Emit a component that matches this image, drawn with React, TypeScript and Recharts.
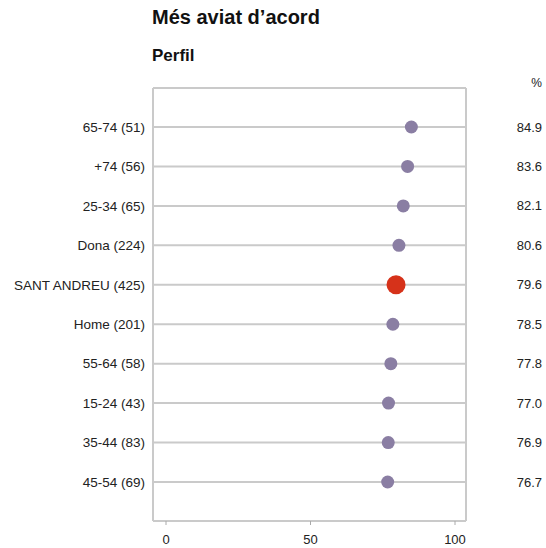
import { ScatterChart, Scatter, XAxis, YAxis, CartesianGrid } from "recharts";

// categories, top to bottom
const categories = [
  "65-74 (51)",
  "+74 (56)",
  "25-34 (65)",
  "Dona (224)",
  "SANT ANDREU (425)",
  "Home (201)",
  "55-64 (58)",
  "15-24 (43)",
  "35-44 (83)",
  "45-54 (69)",
];
const values = [84.9, 83.6, 82.1, 80.6, 79.6, 78.5, 77.8, 77.0, 76.9, 76.7];
const highlight = "SANT ANDREU (425)";
const xTicks = [0, 50, 100];

const data = categories.map((name, i) => ({ name, value: values[i] }));

const FONT = "'Liberation Sans', Arial, Helvetica, sans-serif";
const GRID = "#cacaca";
const DOT = "#8a7ea3";
const RED = "#d6321a";

const Dot = (props: any) => {
  const { cx, cy, payload } = props;
  if (cx == null || cy == null) return <g />;
  const isHi = payload.name === highlight;
  return <circle cx={cx} cy={cy} r={isHi ? 9.5 : 6.5} fill={isHi ? RED : DOT} />;
};

const ValueTick = (props: any) => {
  const { y, payload } = props;
  const i = categories.indexOf(payload.value);
  return (
    <text x={542} y={y} dy={4.5} textAnchor="end" fontSize={13} fontFamily={FONT} fill="#222">
      {values[i].toFixed(1)}
    </text>
  );
};

export default function App() {
  return (
    <div style={{ position: "absolute", left: 0, top: 0, width: 546, height: 548, background: "#fff", fontFamily: FONT }}>
      <div style={{ position: "absolute", left: 152, top: 7, fontSize: 20, lineHeight: "20px", fontWeight: "bold", color: "#111" }}>
        Més aviat d’acord
      </div>
      <div style={{ position: "absolute", left: 152, top: 47, fontSize: 17, lineHeight: "17px", fontWeight: "bold", color: "#111" }}>
        Perfil
      </div>
      <div style={{ position: "absolute", right: 4, top: 77, fontSize: 12, lineHeight: "12px", color: "#222" }}>%</div>
      <div style={{ position: "absolute", left: 0, top: 0 }}>
        <ScatterChart width={546} height={548} margin={{ top: 88, right: 0, bottom: 0, left: 0 }}>
          <CartesianGrid vertical={false} stroke={GRID} strokeWidth={2} />
          <XAxis
            type="number"
            dataKey="value"
            domain={[0, 100]}
            ticks={xTicks}
            padding={{ left: 13, right: 11 }}
            height={27}
            axisLine={{ stroke: GRID, strokeWidth: 2 }}
            tickLine={{ stroke: "#aaa" }}
            tickSize={4}
            tickMargin={10}
            tick={{ fontSize: 13, fill: "#222", fontFamily: FONT }}
          />
          <XAxis
            xAxisId="top"
            orientation="top"
            type="number"
            dataKey="value"
            domain={[0, 100]}
            height={0}
            tick={false}
            tickLine={false}
            axisLine={{ stroke: GRID, strokeWidth: 2 }}
          />
          <YAxis
            type="category"
            dataKey="name"
            scale="point"
            reversed
            allowDuplicatedCategory={false}
            padding={{ top: 39, bottom: 39 }}
            width={153}
            axisLine={{ stroke: GRID, strokeWidth: 2 }}
            tickLine={false}
            tick={{ fontSize: 13.5, fill: "#222", fontFamily: FONT }}
            interval={0}
          />
          <YAxis
            yAxisId="right"
            orientation="right"
            type="category"
            dataKey="name"
            scale="point"
            reversed
            allowDuplicatedCategory={false}
            padding={{ top: 39, bottom: 39 }}
            width={80}
            axisLine={{ stroke: GRID, strokeWidth: 2 }}
            tickLine={false}
            tick={<ValueTick />}
            interval={0}
          />
          <Scatter data={data} shape={<Dot />} isAnimationActive={false} />
          <Scatter data={data} xAxisId="top" yAxisId="right" shape={() => <g />} isAnimationActive={false} />
        </ScatterChart>
      </div>
    </div>
  );
}
